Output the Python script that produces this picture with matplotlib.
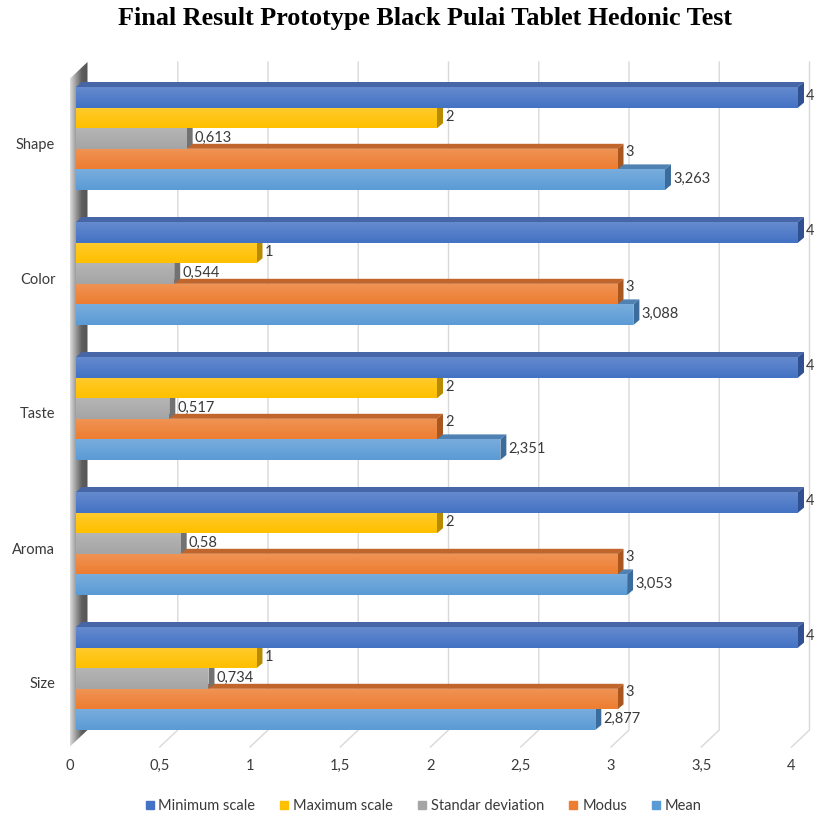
import numpy as np
import matplotlib
matplotlib.use("Agg")
from matplotlib import pyplot as plt
from matplotlib.patches import Polygon
from matplotlib.lines import Line2D
from matplotlib.colors import to_rgb
import matplotlib.transforms as mtransforms

# hedonic test summary per attribute
categories = ["Shape", "Color", "Taste", "Aroma", "Size"]
series = ["Minimum scale", "Maximum scale", "Standar deviation", "Modus", "Mean"]
minimum_scale = [4, 4, 4, 4, 4]
maximum_scale = [2, 1, 2, 2, 1]
std_dev = [0.613, 0.544, 0.517, 0.58, 0.734]
modus = [3, 3, 2, 3, 3]
mean = [3.263, 3.088, 2.351, 3.053, 2.877]
x_ticks = [0, 0.5, 1, 1.5, 2, 2.5, 3, 3.5, 4]

values = [minimum_scale, maximum_scale, std_dev, modus, mean]

# front, top and side colours for each series
face_colors = ["#4472C4", "#FFC000", "#A5A5A5", "#ED7D31", "#5B9BD5"]
top_colors = ["#4766a8", "#d9a400", "#8e8e8e", "#c0652b", "#4f82b3"]
side_colors = ["#2f5192", "#b68b00", "#727272", "#a9561f", "#3b6c9c"]

W, H = 814, 818
DPI = 100
PXX = 180.5   # pixels per x unit
PXY = 135.0   # pixels per category
X0, Y0 = 76, 138.5
FS = 10.5
TXT = "#3a3a3a"


def ypx(py):
    # pixel row -> data y (axis inverted)
    return (py - Y0) / PXY


DX = 6 / PXX
DY = 5 / PXY
BAR_H = 20.6 / PXY
BACK_X = 11.5 / PXX
FRONT_X = -6.5 / PXX


def fmt(v):
    return f"{v:g}".replace(".", ",")


fig = plt.figure(figsize=(W / DPI, H / DPI), dpi=DPI)
ax_left, ax_top, ax_bottom = 65, 55, 758
ax = fig.add_axes([ax_left / W, (H - ax_bottom) / H, (W - ax_left) / W, (ax_bottom - ax_top) / H])
ax.set_xlim((ax_left - X0) / PXX, (W - X0) / PXX)
ylim = (ypx(ax_bottom), ypx(ax_top))
for s in ax.spines.values():
    s.set_visible(False)

# back wall gridlines and floor lines
y_top, y_back_floor, y_front_floor = ypx(62), ypx(730), ypx(747)
for v in x_ticks[1:]:
    ax.plot([v + BACK_X, v + BACK_X, v + FRONT_X], [y_top, y_back_floor, y_front_floor],
            color="#d9d9d9", lw=1, zorder=1, solid_joinstyle="miter")

# left side wall with a light-to-dark shading
wall = Polygon([(FRONT_X, y_front_floor), (BACK_X, y_back_floor), (BACK_X, y_top),
                (FRONT_X, ypx(79))], closed=True, facecolor="none", edgecolor="none")
ax.add_patch(wall)
shade = np.array([to_rgb(c) for c in ["#dcdcdc", "#9a9a9a", "#5e5e5e", "#555555"]])
ramp = np.linspace(0, 1, 64)
grad = np.stack([np.interp(ramp, np.linspace(0, 1, 4), shade[:, k]) for k in range(3)], axis=-1)
img = ax.imshow(grad[None, :, :], extent=(FRONT_X, BACK_X, y_front_floor, y_top),
                aspect="auto", zorder=2, interpolation="bilinear")
img.set_clip_path(wall)

# bars, drawn bottom to top so the upper bars hide the top faces below
n = len(series)
gloss = np.zeros((32, 1, 4))
gloss[:, 0, :3] = 1.0
gloss[:, 0, 3] = np.linspace(0.18, 0.0, 32)
z = 3
for i in reversed(range(len(categories))):
    for j in reversed(range(n)):
        v = values[j][i]
        yc = i - (n - 1) / 2 * BAR_H + j * BAR_H
        yt, yb = yc - BAR_H / 2, yc + BAR_H / 2
        top = Polygon([(0, yt), (v, yt), (v + DX, yt - DY), (DX, yt - DY)],
                      facecolor=top_colors[j], edgecolor="none", zorder=z)
        side = Polygon([(v, yt), (v + DX, yt - DY), (v + DX, yb - DY), (v, yb)],
                       facecolor=side_colors[j], edgecolor="none", zorder=z)
        ax.add_patch(top)
        ax.add_patch(side)
        bar = ax.barh(yc, v, height=BAR_H, color=face_colors[j], zorder=z + 0.5)[0]
        g = ax.imshow(gloss, extent=(0, v, yb, yt), aspect="auto", zorder=z + 0.6)
        g.set_clip_path(bar)
        dy_lab = -7 if j == 3 else -1
        ax.text(v + DX + 2 / PXX, yc + dy_lab / PXY, fmt(v), va="center", ha="left",
                fontsize=FS, color=TXT, family="Lato", zorder=50)
        z += 1

ax.set_ylim(*ylim)

# category labels
ax.set_yticks(range(len(categories)))
ax.set_yticklabels(categories, fontsize=FS, color=TXT, family="Lato")
ax.tick_params(axis="y", length=0, pad=7)
for lab in ax.get_yticklabels():
    lab.set_transform(lab.get_transform() + mtransforms.ScaledTranslation(0, -4.5 / DPI, fig.dpi_scale_trans))

# value axis labels sit on the front edge of the floor
ax.set_xticks(x_ticks)
ax.set_xticklabels([fmt(t) for t in x_ticks], fontsize=FS, color=TXT, family="Lato")
ax.tick_params(axis="x", length=0, pad=1)
for lab in ax.get_xticklabels():
    lab.set_transform(lab.get_transform() + mtransforms.ScaledTranslation(-6.5 / DPI, 0, fig.dpi_scale_trans))

fig.text(425.5 / W, 1 - 19 / H, "Final Result Prototype Black Pulai Tablet Hedonic Test",
         ha="center", va="center", fontsize=18.8, fontweight="bold", family="Liberation Serif")

handles = [Line2D([], [], marker="s", linestyle="none", markersize=6, color=c) for c in face_colors]
fig.legend(handles, series, loc="center", bbox_to_anchor=(422 / W, 1 - 806 / H), ncol=5,
           frameon=False, handletextpad=0.1, columnspacing=1.5, handlelength=1.0,
           prop={"family": "Lato", "size": FS}, labelcolor=TXT)

fig.savefig("out.png", dpi=DPI)
